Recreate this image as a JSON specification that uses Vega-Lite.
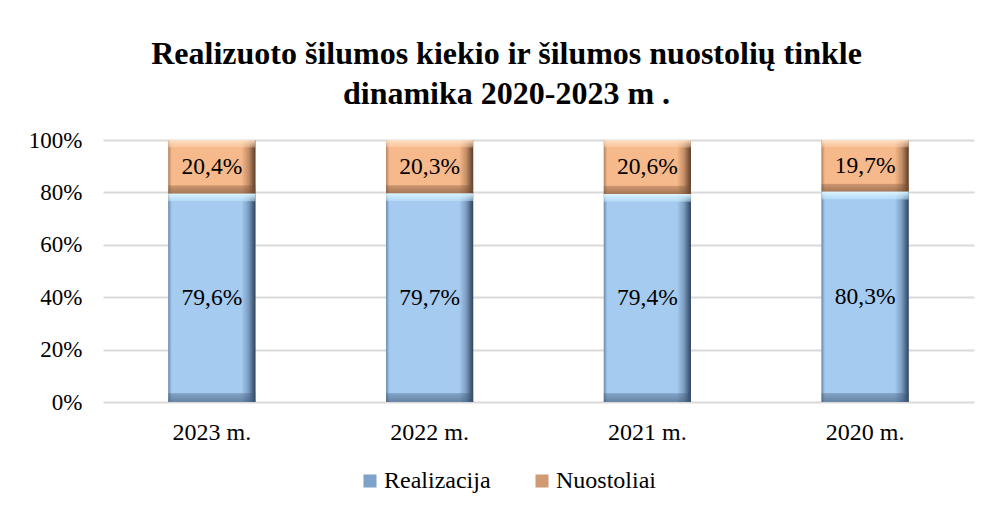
{
  "$schema": "https://vega.github.io/schema/vega-lite/v6.json",
  "autosize": "none",
  "width": 871,
  "height": 262,
  "padding": {"left": 103, "top": 140, "right": 15, "bottom": 106},
  "background": "white",
  "title": {
    "text": ["Realizuoto šilumos kiekio ir šilumos nuostolių tinkle", "dinamika 2020-2023 m ."],
    "font": "Liberation Serif",
    "fontSize": 32,
    "fontWeight": "bold",
    "color": "black",
    "anchor": "middle",
    "frame": "group",
    "dx": -32,
    "lineHeight": 40,
    "offset": 18
  },
  "data": {
    "values": [
      {"year": "2023 m.", "series": "Realizacija", "value": 79.6},
      {"year": "2023 m.", "series": "Nuostoliai", "value": 20.4},
      {"year": "2022 m.", "series": "Realizacija", "value": 79.7},
      {"year": "2022 m.", "series": "Nuostoliai", "value": 20.3},
      {"year": "2021 m.", "series": "Realizacija", "value": 79.4},
      {"year": "2021 m.", "series": "Nuostoliai", "value": 20.6},
      {"year": "2020 m.", "series": "Realizacija", "value": 80.3},
      {"year": "2020 m.", "series": "Nuostoliai", "value": 19.7}
    ]
  },
  "transform": [
    {"stack": "value", "groupby": ["year"], "sort": [{"field": "series", "order": "descending"}], "as": ["v0", "v1"]},
    {"calculate": "(datum.v0 + datum.v1) / 2", "as": "mid"},
    {"calculate": "replace(format(datum.value, '.1f'), '.', ',') + '%'", "as": "label"}
  ],
  "encoding": {
    "x": {
      "field": "year",
      "type": "nominal",
      "sort": ["2023 m.", "2022 m.", "2021 m.", "2020 m."],
      "scale": {"paddingInner": 0.6, "paddingOuter": 0.3},
      "axis": {
        "title": null,
        "labelAngle": 0,
        "ticks": false,
        "domain": false,
        "labelPadding": 18,
        "labelFont": "Liberation Serif",
        "labelFontSize": 24,
        "labelColor": "black"
      }
    }
  },
  "layer": [
    {
      "mark": {"type": "bar"},
      "encoding": {
        "y": {
          "field": "v0",
          "type": "quantitative",
          "scale": {"domain": [0, 100], "nice": false},
          "axis": {
            "title": null,
            "values": [0, 20, 40, 60, 80, 100],
            "labelExpr": "datum.value + '%'",
            "ticks": false,
            "domain": false,
            "grid": true,
            "gridColor": "#d9d9d9",
            "gridWidth": 2,
            "labelPadding": 21,
            "labelFont": "Liberation Serif",
            "labelFontSize": 23,
            "labelColor": "black"
          }
        },
        "y2": {"field": "v1"},
        "color": {
          "field": "series",
          "type": "nominal",
          "scale": {"domain": ["Realizacija", "Nuostoliai"], "range": ["#7fa3c8", "#d09a72"]},
          "legend": {
            "title": null,
            "orient": "none",
            "legendX": 255,
            "legendY": 329,
            "direction": "horizontal",
            "symbolType": "square",
            "symbolSize": 170,
            "symbolStrokeWidth": 0,
            "labelFont": "Liberation Serif",
            "labelFontSize": 24,
            "labelColor": "black",
            "labelOffset": 2,
            "columnPadding": 39
          }
        }
      }
    },
    {
      "transform": [{"filter": "datum.series === 'Realizacija'"}],
      "mark": {
        "type": "bar",
        "color": {
          "gradient": "linear",
          "x1": 0, "x2": 1, "y1": 0, "y2": 0,
          "stops": [
            {"offset": 0, "color": "#6c8cae"},
            {"offset": 0.04, "color": "#a6cbf0"},
            {"offset": 0.84, "color": "#a6cbf0"},
            {"offset": 0.92, "color": "#7b9dc1"},
            {"offset": 1, "color": "#2f435a"}
          ]
        }
      },
      "encoding": {
        "y": {"field": "v0", "type": "quantitative"},
        "y2": {"field": "v1"}
      }
    },
    {
      "transform": [{"filter": "datum.series === 'Nuostoliai'"}],
      "mark": {
        "type": "bar",
        "color": {
          "gradient": "linear",
          "x1": 0, "x2": 1, "y1": 0, "y2": 0,
          "stops": [
            {"offset": 0, "color": "#b4845f"},
            {"offset": 0.04, "color": "#f6b98c"},
            {"offset": 0.84, "color": "#f6b98c"},
            {"offset": 0.92, "color": "#c58e66"},
            {"offset": 1, "color": "#5a3d2c"}
          ]
        }
      },
      "encoding": {
        "y": {"field": "v0", "type": "quantitative"},
        "y2": {"field": "v1"}
      }
    },
    {
      "transform": [{"filter": "datum.series === 'Realizacija'"}],
      "mark": {
        "type": "bar",
        "color": {
          "gradient": "linear",
          "x1": 0, "x2": 0, "y1": 0, "y2": 1,
          "stops": [
            {"offset": 0, "color": "rgba(225,248,255,0.95)"},
            {"offset": 0.035, "color": "rgba(200,235,255,0.5)"},
            {"offset": 0.04, "color": "rgba(166,203,240,0)"},
            {"offset": 0.955, "color": "rgba(40,60,90,0)"},
            {"offset": 0.96, "color": "rgba(60,85,115,0.35)"},
            {"offset": 1, "color": "rgba(60,85,115,0.6)"}
          ]
        }
      },
      "encoding": {
        "y": {"field": "v0", "type": "quantitative"},
        "y2": {"field": "v1"}
      }
    },
    {
      "transform": [{"filter": "datum.series === 'Nuostoliai'"}],
      "mark": {
        "type": "bar",
        "color": {
          "gradient": "linear",
          "x1": 0, "x2": 0, "y1": 0, "y2": 1,
          "stops": [
            {"offset": 0, "color": "rgba(255,230,205,0.9)"},
            {"offset": 0.13, "color": "rgba(255,215,180,0.4)"},
            {"offset": 0.15, "color": "rgba(246,185,140,0)"},
            {"offset": 0.84, "color": "rgba(90,60,40,0)"},
            {"offset": 0.86, "color": "rgba(120,80,55,0.35)"},
            {"offset": 1, "color": "rgba(110,75,50,0.6)"}
          ]
        }
      },
      "encoding": {
        "y": {"field": "v0", "type": "quantitative"},
        "y2": {"field": "v1"}
      }
    },
    {
      "mark": {
        "type": "text",
        "font": "Liberation Serif",
        "fontSize": 23.5,
        "color": "black",
        "baseline": "middle",
        "align": "center"
      },
      "encoding": {
        "y": {"field": "mid", "type": "quantitative"},
        "text": {"field": "label", "type": "nominal"}
      }
    }
  ],
  "config": {
    "view": {"stroke": null}
  }
}
